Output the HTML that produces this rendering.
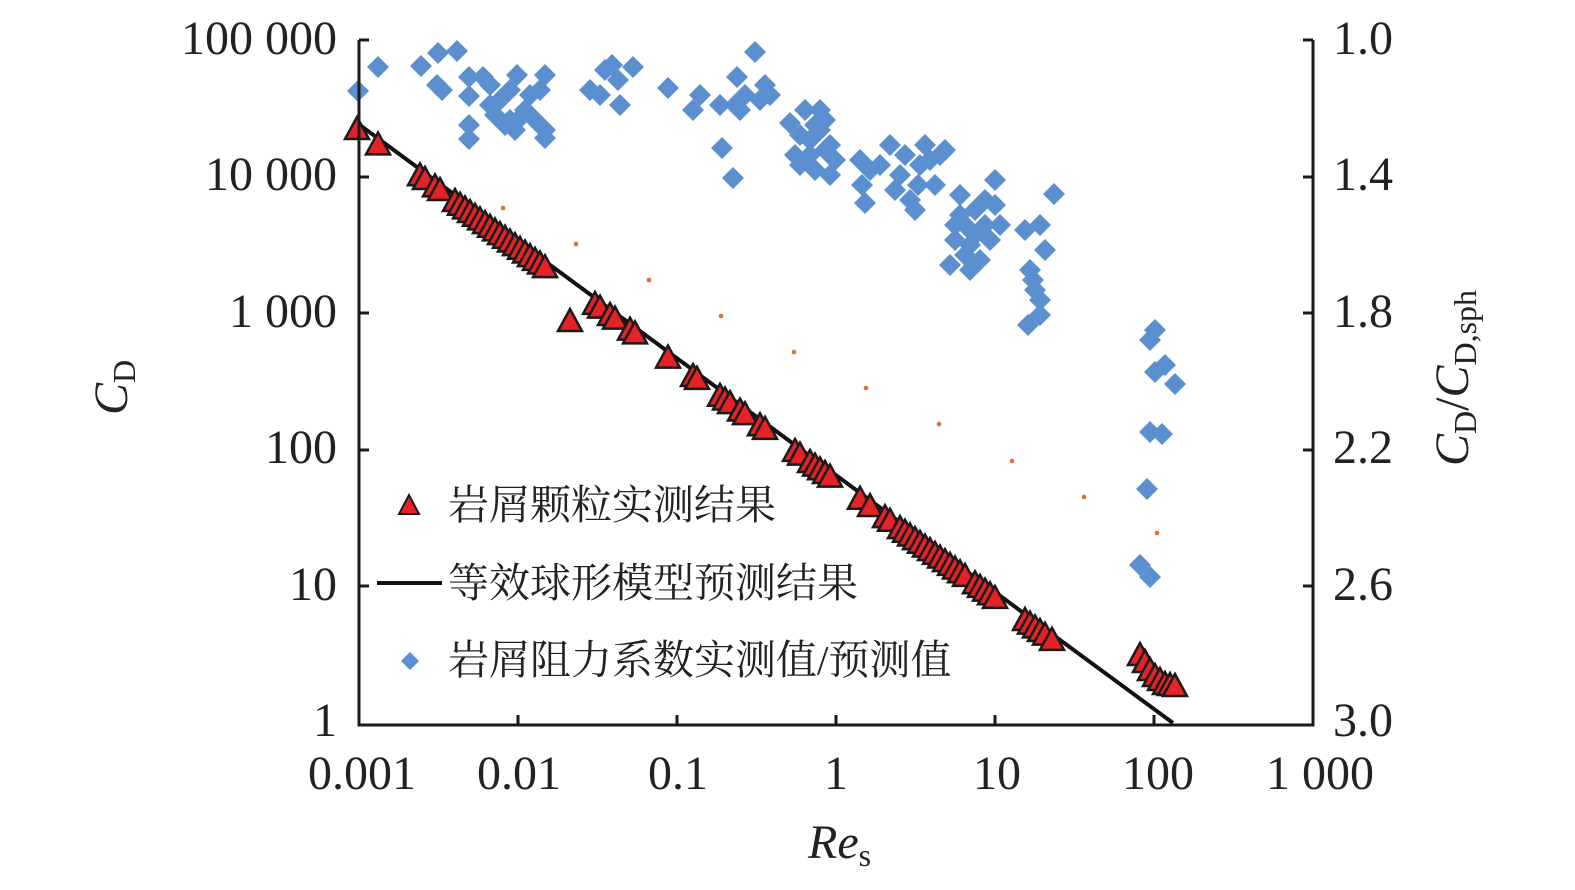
<!DOCTYPE html>
<html><head><meta charset="utf-8"><style>
html,body{margin:0;padding:0;background:#fff;width:1575px;height:890px;overflow:hidden}
svg{display:block}
text{font-family:"Liberation Serif","Noto Serif CJK SC",serif;fill:#222}
</style></head><body>
<svg id="s" width="1575" height="890" viewBox="0 0 1575 890" xmlns="http://www.w3.org/2000/svg">
<g id="orange" fill="#e07030"></g>
<g id="blue" fill="#5b8fcf"></g>
<line x1="357" y1="123" x2="1173" y2="723" stroke="#111" stroke-width="4"/>
<g id="tri" fill="#e52225" stroke="#1a1a1a" stroke-width="2.5" stroke-linejoin="miter"></g>
<g stroke="#1a1a1a" stroke-width="3" fill="none">
<polyline points="359,40 359,725 1313,725 1313,40"/>
<line x1="359" y1="40" x2="369" y2="40"/><line x1="359" y1="177" x2="369" y2="177"/><line x1="359" y1="313" x2="369" y2="313"/><line x1="359" y1="450" x2="369" y2="450"/><line x1="359" y1="586" x2="369" y2="586"/>
<line x1="1303" y1="40" x2="1313" y2="40"/><line x1="1303" y1="177" x2="1313" y2="177"/><line x1="1303" y1="313" x2="1313" y2="313"/><line x1="1303" y1="450" x2="1313" y2="450"/><line x1="1303" y1="586" x2="1313" y2="586"/>
<line x1="518" y1="725" x2="518" y2="715"/><line x1="677" y1="725" x2="677" y2="715"/><line x1="836" y1="725" x2="836" y2="715"/><line x1="995" y1="725" x2="995" y2="715"/><line x1="1154" y1="725" x2="1154" y2="715"/>
</g>
<g font-size="48" text-anchor="end">
<text x="337" y="54">100 000</text><text x="337" y="190">10 000</text><text x="337" y="327">1 000</text><text x="337" y="463">100</text><text x="337" y="600">10</text><text x="337" y="736">1</text>
</g>
<g font-size="48" text-anchor="start">
<text x="1333" y="54">1.0</text><text x="1333" y="190">1.4</text><text x="1333" y="327">1.8</text><text x="1333" y="463">2.2</text><text x="1333" y="600">2.6</text><text x="1333" y="736">3.0</text>
</g>
<g font-size="48" text-anchor="middle">
<text x="362" y="789">0.001</text><text x="519" y="789">0.01</text><text x="678" y="789">0.1</text><text x="836" y="789">1</text><text x="997" y="789">10</text><text x="1158" y="789">100</text><text x="1320" y="789">1 000</text>
</g>
<text x="808" y="858" font-size="48" font-style="italic">Re<tspan font-size="32" font-style="normal" dy="8">s</tspan></text>
<text transform="translate(127,415) rotate(-90)" font-size="48"><tspan font-style="italic">C</tspan><tspan font-size="32" dy="8">D</tspan></text>
<text transform="translate(1468,466) rotate(-90)" font-size="48"><tspan font-style="italic">C</tspan><tspan font-size="32" dy="8">D</tspan><tspan dy="-8">/</tspan><tspan font-style="italic">C</tspan><tspan font-size="32" dy="8">D,sph</tspan></text>
<polygon points="409,495 399,514 419,514" fill="#e52225" stroke="#1a1a1a" stroke-width="2"/>
<text x="448" y="519" font-size="41">岩屑颗粒实测结果</text>
<line x1="377" y1="583" x2="442" y2="583" stroke="#111" stroke-width="4"/>
<text x="448" y="597" font-size="41">等效球形模型预测结果</text>
<polygon points="410,652 419,661 410,670 401,661" fill="#5b8fcf"/>
<text x="448" y="674" font-size="41">岩屑阻力系数实测值/预测值</text>
</svg>
<script>
var NS="http://www.w3.org/2000/svg";
function el(g,t,a){var e=document.createElementNS(NS,t);for(var k in a)e.setAttribute(k,a[k]);document.getElementById(g).appendChild(e);}
[[503,208],[576,244],[649,280],[721,316],[794,352],[866,388],[939,424],[1012,461],[1084,497],[1157,533]].forEach(function(p){el("orange","circle",{cx:p[0],cy:p[1],r:2.3});});
var B=[[358,91],[378,67],[421,66],[438,53],[457,51],[437,85],[442,90],[469,77],[483,77],[469,96],[469,125],[469,139],[490,105],[495,115],[500,100],[510,90],[517,75],[510,120],[515,130],[525,110],[535,120],[540,90],[545,75],[545,130],[545,138],[530,95],[505,125],[520,118],[490,85],[590,90],[600,95],[605,70],[612,65],[618,80],[620,105],[633,67],[668,88],[693,110],[700,95],[722,148],[733,178],[737,77],[745,95],[755,52],[740,110],[760,100],[765,85],[770,95],[720,105],[735,105],[790,123],[795,155],[800,165],[805,110],[810,140],[815,170],[820,130],[825,120],[830,145],[835,160],[830,175],[820,110],[800,135],[810,155],[825,150],[815,125],[860,160],[862,185],[865,203],[870,170],[880,165],[890,145],[895,190],[900,175],[905,155],[910,200],[915,210],[920,165],[925,145],[930,160],[935,185],[940,155],[945,150],[918,185],[950,265],[955,240],[960,195],[965,225],[970,245],[975,210],[980,260],[985,200],[990,240],[995,180],[1000,225],[960,215],[970,270],[965,255],[975,235],[985,225],[955,225],[995,205],[1025,230],[1030,270],[1035,290],[1040,225],[1045,250],[1028,325],[1040,315],[1054,194],[1033,280],[1040,300],[1155,330],[1150,340],[1165,365],[1155,372],[1175,384],[1150,432],[1162,434],[1147,489],[1140,565],[1150,577]];
B.forEach(function(p){var x=p[0],y=p[1],r=11;el("blue","polygon",{points:(x)+","+(y-r)+" "+(x+r)+","+y+" "+x+","+(y+r)+" "+(x-r)+","+y});});
var T=[357,378,420,425,435,440,455,460,465,470,475,480,485,490,495,500,505,510,515,520,525,530,535,540,545,595,600,610,615,630,635,668,693,697,720,725,730,740,745,760,765,795,800,810,815,820,825,830,860,870,885,890,900,905,910,915,920,925,930,935,940,945,950,955,960,965,975,980,985,990,995,1025,1030,1035,1040,1045,1052];
var P=T.map(function(x){return [x,123+(x-357)*0.735+6];});
P.push([570,321]);
P.push([1140,655],[1145,662],[1150,670],[1155,676],[1160,680],[1165,684],[1170,685],[1175,686]);
P.forEach(function(p){var x=p[0],y=p[1];el("tri","polygon",{points:x+","+(y-12)+" "+(x+12)+","+(y+10)+" "+(x-12)+","+(y+10)});});
</script>
</body></html>
